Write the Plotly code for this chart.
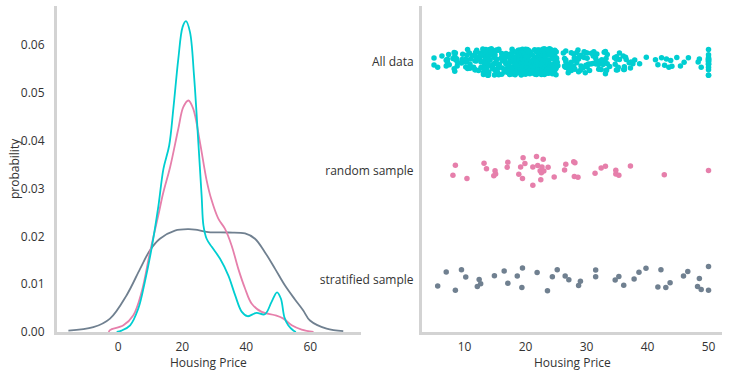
import plotly.graph_objects as go

# ---------------- data ----------------
# KDE curves (x = housing price, y = density)
kde_all_x = [-0.5, 1.0, 3.7, 6.25, 8.3, 10.4, 12.5, 14.1, 15.9, 17.2, 18.75, 20.1, 21.15, 22.4,
             23.65, 25.0, 26.06, 26.6, 27.6, 29.2, 31.8, 34.4, 36.5, 38.6, 40.4, 42.0, 43.25,
             45.8, 47.9, 49.6, 50.8, 51.9, 53.1, 54.7, 55.5]
kde_all_y = [0.0, 0.0003, 0.0014, 0.0049, 0.0105, 0.0175, 0.0262, 0.0341, 0.039, 0.0467, 0.0571,
             0.0638, 0.065, 0.0627, 0.0537, 0.0397, 0.0282, 0.0223, 0.0195, 0.0178, 0.0153, 0.0118,
             0.0077, 0.0042, 0.0033, 0.0037, 0.0040, 0.0037, 0.0063, 0.0083, 0.0070, 0.0031, 0.0014,
             0.0003, 0.0]

kde_random_x = [-3.0, -2.6, 1.6, 4.7, 7.3, 9.9, 12.5, 14.0, 16.2, 18.75, 20.3, 21.9, 23.4, 25.5,
                27.6, 29.0, 31.25, 33.3, 35.4, 37.5, 39.6, 41.7, 44.8, 49.0, 51.6, 54.2, 57.3, 61.0]
kde_random_y = [0.0, 0.0004, 0.0014, 0.0035, 0.0084, 0.0167, 0.0244, 0.029, 0.0345, 0.0425, 0.047,
                0.0484, 0.0467, 0.0397, 0.0317, 0.0279, 0.0237, 0.0216, 0.0181, 0.0132, 0.0091,
                0.0059, 0.0042, 0.0035, 0.0028, 0.0014, 0.0005, 0.0]

kde_strat_x = [-15.6, -7.8, -2.6, 2.6, 6.8, 9.9, 13.0, 17.7, 21.9, 24.0, 28.1, 34.4, 39.6, 42.7,
               45.8, 49.0, 52.1, 55.2, 57.8, 59.9, 65.1, 70.3]
kde_strat_y = [0.0003, 0.001, 0.0028, 0.0077, 0.0132, 0.0171, 0.0195, 0.0212, 0.0215, 0.0214,
               0.0209, 0.0208, 0.0206, 0.0195, 0.0167, 0.0132, 0.0097, 0.0068, 0.0045, 0.0024,
               0.0007, 0.0002]

# Strip plot values (housing prices)
all_data = [
    24.0, 21.6, 34.7, 33.4, 36.2, 28.7, 22.9, 27.1, 16.5, 18.9, 15.0, 18.9, 21.7, 20.4, 18.2, 19.9,
    23.1, 17.5, 20.2, 18.2, 13.6, 19.6, 15.2, 14.5, 15.6, 13.9, 16.6, 14.8, 18.4, 21.0, 12.7, 14.5,
    13.2, 13.1, 13.5, 18.9, 20.0, 21.0, 24.7, 30.8, 34.9, 26.6, 25.3, 24.7, 21.2, 19.3, 20.0, 16.6,
    14.4, 19.4, 19.7, 20.5, 25.0, 23.4, 18.9, 35.4, 24.7, 31.6, 23.3, 19.6, 18.7, 16.0, 22.2, 25.0,
    33.0, 23.5, 19.4, 22.0, 17.4, 20.9, 24.2, 21.7, 22.8, 23.4, 24.1, 21.4, 20.0, 20.8, 21.2, 20.3,
    28.0, 23.9, 24.8, 22.9, 23.9, 26.6, 22.5, 22.2, 23.6, 28.7, 22.6, 22.0, 22.9, 25.0, 20.6, 28.4,
    21.4, 38.7, 43.8, 33.2, 27.5, 26.5, 18.6, 19.3, 20.1, 19.5, 19.5, 20.4, 19.8, 19.4, 21.7, 22.8,
    18.8, 18.7, 18.5, 18.3, 21.2, 19.2, 20.4, 19.3, 22.0, 20.3, 20.5, 17.3, 18.8, 21.4, 15.7, 16.2,
    18.0, 14.3, 19.2, 19.6, 23.0, 18.4, 15.6, 18.1, 17.4, 17.1, 13.3, 17.8, 14.0, 14.4, 13.4, 15.6,
    11.8, 13.8, 15.6, 14.6, 17.8, 15.4, 21.5, 19.6, 15.3, 19.4, 17.0, 15.6, 13.1, 41.3, 24.3, 23.3,
    27.0, 50.0, 50.0, 50.0, 22.7, 25.0, 50.0, 23.8, 23.8, 22.3, 17.4, 19.1, 23.1, 23.6, 22.6, 29.4,
    23.2, 24.6, 29.9, 37.2, 39.8, 36.2, 37.9, 32.5, 26.4, 29.6, 50.0, 32.0, 29.8, 34.9, 37.0, 30.5,
    36.4, 31.1, 29.1, 50.0, 33.3, 30.3, 34.6, 34.9, 32.9, 24.1, 42.3, 48.5, 50.0, 22.6, 24.4, 22.5,
    24.4, 20.0, 21.7, 19.3, 22.4, 28.1, 23.7, 25.0, 23.3, 28.7, 21.5, 23.0, 26.7, 21.7, 27.5, 30.1,
    44.8, 50.0, 37.6, 31.6, 46.7, 31.5, 24.3, 31.7, 41.7, 48.3, 29.0, 24.0, 25.1, 31.5, 23.7, 23.3,
    22.0, 20.1, 22.2, 23.7, 17.6, 18.5, 24.3, 20.5, 24.5, 26.2, 24.4, 24.8, 29.6, 42.8, 21.9, 20.9,
    44.0, 50.0, 36.0, 30.1, 33.8, 43.1, 48.8, 31.0, 36.5, 22.8, 30.7, 50.0, 43.5, 20.7, 21.1, 25.2,
    24.4, 35.2, 32.4, 32.0, 33.2, 33.1, 29.1, 35.1, 45.4, 35.4, 46.0, 50.0, 32.2, 22.0, 20.1, 23.2,
    22.3, 24.8, 28.5, 37.3, 27.9, 23.9, 21.7, 28.6, 27.1, 20.3, 22.5, 29.0, 24.8, 22.0, 26.4, 33.1,
    36.1, 28.4, 33.4, 28.2, 22.8, 20.3, 16.1, 22.1, 19.4, 21.6, 23.8, 16.2, 17.8, 19.8, 23.1, 21.0,
    23.8, 23.1, 20.4, 18.5, 25.0, 24.6, 23.0, 22.2, 19.3, 22.6, 19.8, 17.1, 19.4, 22.2, 20.7, 21.1,
    19.5, 18.5, 20.6, 19.0, 18.7, 32.7, 16.5, 23.9, 31.2, 17.5, 17.2, 23.1, 24.5, 26.6, 22.9, 24.1,
    18.6, 30.1, 18.2, 20.6, 17.8, 21.7, 22.7, 22.6, 25.0, 19.9, 20.8, 16.8, 21.9, 27.5, 21.9, 23.1,
    50.0, 50.0, 50.0, 50.0, 50.0, 13.8, 13.8, 15.0, 13.9, 13.3, 13.1, 10.2, 10.4, 10.9, 11.3, 12.3,
    8.8, 7.2, 10.5, 7.4, 10.2, 11.5, 15.1, 23.2, 9.7, 13.8, 12.7, 13.1, 12.5, 8.5, 5.0, 6.3,
    5.6, 7.2, 12.1, 8.3, 8.5, 5.0, 11.9, 27.9, 17.2, 27.5, 15.0, 17.2, 17.9, 16.3, 7.0, 7.2,
    7.5, 10.4, 8.8, 8.4, 16.7, 14.2, 20.8, 13.4, 11.7, 8.3, 10.2, 10.9, 11.0, 9.5, 14.5, 14.1,
    16.1, 14.3, 11.7, 13.4, 9.6, 8.7, 8.4, 12.8, 10.5, 17.1, 18.4, 15.4, 10.8, 11.8, 14.9, 12.6,
    14.1, 13.0, 13.4, 15.2, 16.1, 17.8, 14.9, 14.1, 12.7, 13.5, 14.9, 20.0, 16.4, 17.7, 19.5, 20.2,
    21.4, 19.9, 19.0, 19.1, 19.1, 20.1, 19.9, 19.6, 23.2, 29.8, 13.8, 13.3, 16.7, 12.0, 14.6, 21.4,
    23.0, 23.7, 25.0, 21.8, 20.6, 21.2, 19.1, 20.6, 15.2, 7.0, 8.1, 13.6, 20.1, 21.8, 24.5, 23.1,
    19.7, 18.3, 21.2, 17.5, 16.8, 22.4, 20.6, 23.9, 22.0, 11.9,
]

random_sample = [8.1, 8.5, 10.4, 13.2, 13.6, 14.8, 15.0, 15.1, 17.0, 17.1, 18.9, 19.2, 19.5, 19.6,
                 19.9, 21.2, 21.2, 21.8, 22.0, 22.4, 22.5, 22.6, 22.7, 22.9, 23.0, 23.7, 24.7, 26.4,
                 26.6, 27.9, 28.0, 28.1, 28.6, 31.4, 32.4, 33.1, 34.8, 34.8, 35.3, 37.2, 42.75, 50.0]

strat_sample = [5.6, 7.0, 8.5, 9.5, 10.2, 12.1, 12.4, 12.65, 14.9, 16.5, 17.1, 18.65, 19.4, 19.5,
                21.9, 23.6, 24.4, 25.2, 26.5, 27.1, 28.7, 29.0, 31.5, 31.5, 34.7, 35.3, 36.1, 37.8,
                38.6, 39.75, 41.7, 42.2, 43.0, 43.7, 45.9, 46.6, 48.2, 48.5, 48.8, 50.0, 50.0]

categories = ["All data", "random sample", "stratified sample"]
left_xticks = [0, 20, 40, 60]
left_yticks = [0.00, 0.01, 0.02, 0.03, 0.04, 0.05, 0.06]
right_xticks = [10, 20, 30, 40, 50]

# ---------------- style ----------------
CYAN = "#00ced1"
PINK = "#e67fab"
SLATE = "#708090"
AXIS_COLOR = "#d3d3d3"
TEXT_COLOR = "#333333"
FONT = "Open Sans"
W, H = 731, 377

fig = go.Figure()

for xs, ys, col in [(kde_strat_x, kde_strat_y, SLATE),
                    (kde_random_x, kde_random_y, PINK),
                    (kde_all_x, kde_all_y, CYAN)]:
    fig.add_trace(go.Scatter(x=xs, y=ys, mode="lines", line=dict(color=col, width=1.8, shape="spline"),
                             xaxis="x", yaxis="y", showlegend=False, hoverinfo="skip"))

for name, vals, col, jit in [(categories[0], all_data, CYAN, 0.5),
                             (categories[1], random_sample, PINK, 0.72),
                             (categories[2], strat_sample, SLATE, 0.6)]:
    fig.add_trace(go.Box(x=vals, y=[name] * len(vals), orientation="h", boxpoints="all",
                         jitter=jit, pointpos=0, fillcolor="rgba(0,0,0,0)",
                         line=dict(color="rgba(0,0,0,0)", width=0),
                         marker=dict(color=col, size=5.5, line=dict(width=0)),
                         xaxis="x2", yaxis="y2", showlegend=False))

ydom = [1 - 332 / H, 1 - 6 / H]
axis_common = dict(showgrid=False, zeroline=False, showline=True, linecolor=AXIS_COLOR, linewidth=3,
                   ticks="", automargin=False,
                   tickfont=dict(family=FONT, size=12, color=TEXT_COLOR))

fig.update_layout(
    template="none",
    width=W, height=H, autosize=False, margin=dict(l=0, r=0, t=0, b=0, pad=0, autoexpand=False),
    paper_bgcolor="white", plot_bgcolor="white",
    font=dict(family=FONT, size=12, color=TEXT_COLOR),
    xaxis=dict(domain=[57 / W, 361 / W], range=[-19.16, 75.84], tickvals=left_xticks,
               anchor="y", ticklabelstandoff=2, **axis_common),
    yaxis=dict(domain=ydom, range=[0, 0.06816], tickvals=left_yticks, tickformat=".2f",
               anchor="x", ticklabelstandoff=7, **axis_common),
    xaxis2=dict(domain=[422 / W, 722 / W], range=[3.03, 52.21], tickvals=right_xticks,
                anchor="y2", ticklabelstandoff=2, **axis_common),
    yaxis2=dict(domain=ydom, type="category", categoryorder="array", categoryarray=categories,
                range=[2.477, -0.514], anchor="x2", ticklabelstandoff=3, **axis_common),
    boxmode="overlay",
    annotations=[
        dict(text="probability", x=14 / W, y=1 - 169 / H, xref="paper", yref="paper",
             xanchor="center", yanchor="middle",
             textangle=-90, showarrow=False, font=dict(family=FONT, size=12, color=TEXT_COLOR)),
        dict(text="Housing Price", x=208 / W, y=1 - 362 / H, xref="paper", yref="paper",
             xanchor="center", yanchor="middle",
             showarrow=False, font=dict(family=FONT, size=12, color=TEXT_COLOR)),
        dict(text="Housing Price", x=572 / W, y=1 - 362 / H, xref="paper", yref="paper",
             xanchor="center", yanchor="middle",
             showarrow=False, font=dict(family=FONT, size=12, color=TEXT_COLOR)),
    ],
)

fig.write_html(
    "out.html",
    config={"displayModeBar": False, "responsive": False},
    post_script="document.body.style.margin='0';document.body.style.overflow='hidden';"
                "document.documentElement.style.overflow='hidden';",
)
